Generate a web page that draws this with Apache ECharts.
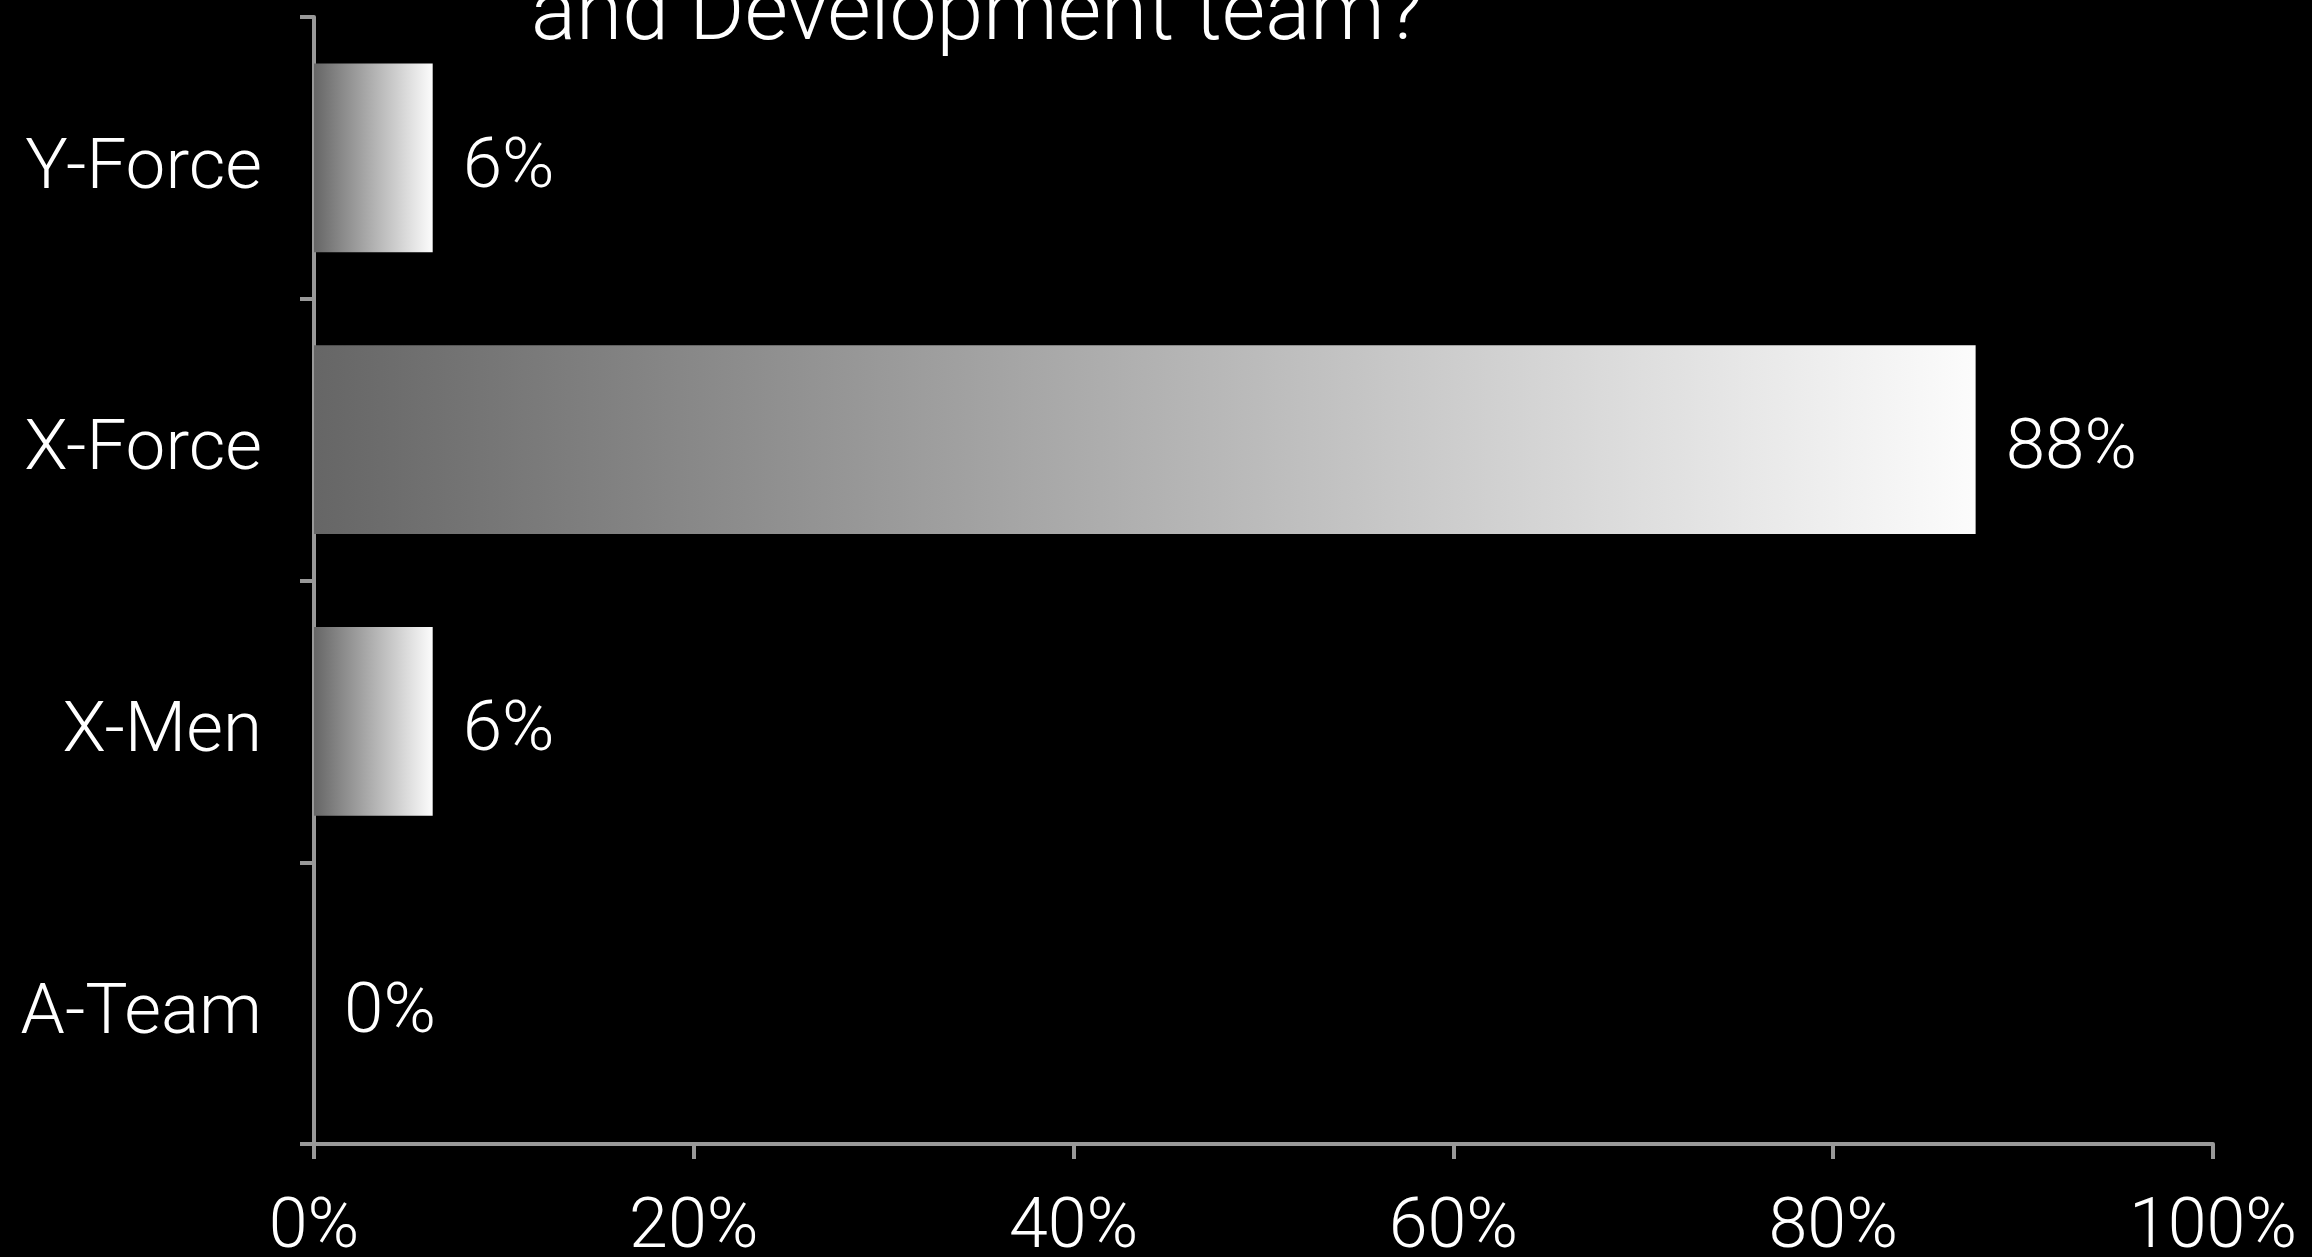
<!DOCTYPE html>
<html>
<head>
<meta charset="utf-8">
<script src="https://cdn.jsdelivr.net/npm/echarts@6/dist/echarts.min.js"></script>
<style>
html,body{margin:0;padding:0;background:#000;}
#chart{width:2312px;height:1257px;}
</style>
</head>
<body>
<div id="chart"></div>
<script>
const titleText = 'and Development team?';
const categories = ['Y-Force', 'X-Force', 'X-Men', 'A-Team'];
const values = [6.25, 87.5, 6.25, 0];
const xTicks = { min: 0, max: 100, interval: 20 };

const FONT = 'Roboto, "Liberation Sans", sans-serif';
const chart = echarts.init(document.getElementById('chart'));
chart.setOption({
  backgroundColor: '#000',
  animation: false,
  title: {
    text: titleText,
    left: 526,
    top: -29,
    textStyle: { color: '#fff', fontSize: 84, fontWeight: 300, fontFamily: FONT }
  },
  grid: { left: 314, right: 99, top: 17, bottom: 113, containLabel: false, outerBoundsMode: 'none' },
  xAxis: {
    type: 'value',
    min: xTicks.min, max: xTicks.max, interval: xTicks.interval,
    axisLine: { show: true, lineStyle: { color: '#999', width: 4 } },
    axisTick: { show: true, length: 15, lineStyle: { color: '#999', width: 4 } },
    splitLine: { show: false },
    axisLabel: {
      formatter: '{value}%', color: '#fff', fontSize: 70, fontWeight: 300,
      fontFamily: FONT, margin: 50
    }
  },
  yAxis: {
    type: 'category',
    inverse: true,
    data: categories,
    axisLine: { show: true, lineStyle: { color: '#999', width: 4 } },
    axisTick: { show: true, length: 14, lineStyle: { color: '#999', width: 4 } },
    axisLabel: {
      color: '#fff', fontSize: 71, fontWeight: 300, fontFamily: FONT, margin: 52,
      verticalAlign: 'top', lineHeight: 24
    }
  },
  series: [{
    type: 'bar',
    data: values,
    barCategoryGap: '33%',
    itemStyle: {
      color: new echarts.graphic.LinearGradient(0, 0, 1, 0, [
        { offset: 0, color: '#666' },
        { offset: 1, color: '#fcfcfc' }
      ])
    },
    label: {
      show: true, position: 'right', distance: 30, offset: [0, 11],
      color: '#fff', fontSize: 71, fontWeight: 300, fontFamily: FONT,
      formatter: p => Math.round(p.value) + '%'
    }
  }]
});
</script>
</body>
</html>
